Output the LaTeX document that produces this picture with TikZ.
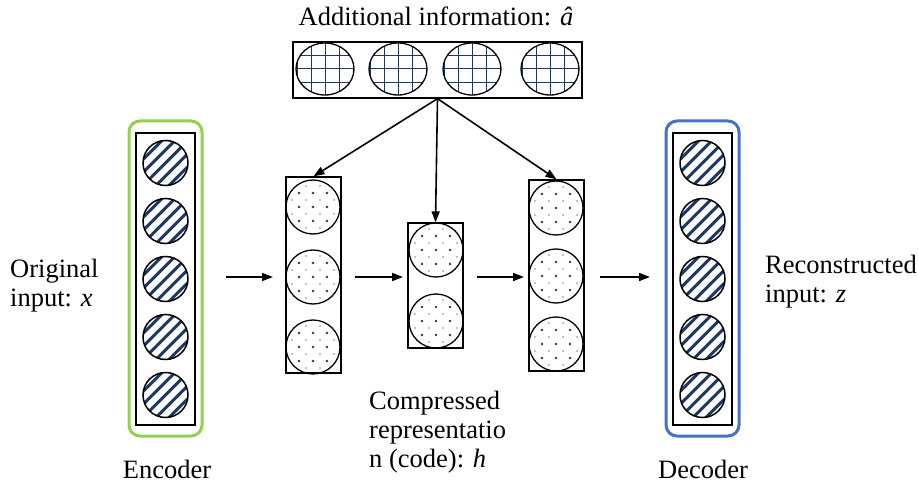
\documentclass[tikz,border=0pt]{standalone}
\usepackage{fontspec}
\setmainfont{Liberation Serif}
\usetikzlibrary{arrows.meta,shapes.geometric,calc}
\definecolor{navy}{HTML}{203864}
\definecolor{encgreen}{HTML}{92D050}
\definecolor{decblue}{HTML}{4472C4}
\tikzset{
  lbl/.style={inner sep=0pt, font=\fontsize{26.5}{29}\selectfont, align=left},
  layerbox/.style={draw, line width=1.3pt, inner sep=0pt},
  outerbox/.style={line width=3pt, rounded corners=11pt, inner sep=0pt},
  stripecirc/.style={circle, draw, line width=1.5pt, minimum size=45pt, inner sep=0pt,
    path picture={\foreach \k in {-6,...,6}
      \draw[navy, line width=3.1pt] ($(path picture bounding box.center)+(\k*13-40,40)$) -- ++(80,-80);}},
  dotcirc/.style={circle, draw, line width=1.3pt, minimum size=54pt, inner sep=0pt,
    path picture={\foreach \i in {-2,...,2} \foreach \j in {-2,...,2} {
      \fill[navy] ($(path picture bounding box.center)+(\i*14,\j*14)$) circle (1.3);
      \fill[black] ($(path picture bounding box.center)+(\i*14+7,\j*14+7)$) circle (0.55);}}},
  gridell/.style={ellipse, draw, line width=1.3pt, minimum width=58pt, minimum height=52pt, inner sep=0pt,
    path picture={\foreach \i in {-3,...,3}
      \draw[navy, line width=1pt] ($(path picture bounding box.center)+(\i*14,-40)$) -- ++(0,80);
      \foreach \j in {-3,...,3}
      \draw[navy, line width=1pt] ($(path picture bounding box.center)+(-40,\j*13.5)$) -- ++(80,0);}},
  arr/.style={line width=1.6pt, -{Triangle[length=11pt,width=8pt]}}
}
\begin{document}
\begin{tikzpicture}[x=1pt,y=-1pt]
\useasboundingbox (0,0) rectangle (918,489);
% title and top box
\node[lbl, anchor=base] (title) at (436,26) {Additional information: \textit{â}};
\node[layerbox, minimum width=289pt, minimum height=56pt] (top) at (437.5,70) {};
\node[gridell] (g1) at (325,69) {};
\node[gridell] (g2) at (398,69) {};
\node[gridell] (g3) at (472,69) {};
\node[gridell] (g4) at (550,69) {};
% encoder
\node[outerbox, draw=encgreen, minimum width=73pt, minimum height=315pt] (enc) at (165.5,278.5) {};
\node[layerbox, minimum width=59pt, minimum height=292pt] (encin) at (165.5,279) {};
\foreach \y [count=\n] in {163,221,279,337,395}
  \node[stripecirc] (e\n) at (165.5,\y) {};
% decoder
\node[outerbox, draw=decblue, minimum width=73pt, minimum height=315pt] (dec) at (702.5,278.5) {};
\node[layerbox, minimum width=59pt, minimum height=292pt] (decin) at (702.5,279) {};
\foreach \y [count=\n] in {163,221,279,337,395}
  \node[stripecirc] (d\n) at (702.5,\y) {};
% hidden layers
\node[layerbox, minimum width=55pt, minimum height=196pt] (L) at (313.5,275) {};
\foreach \y [count=\n] in {207,277,347}
  \node[dotcirc] (l\n) at (313,\y) {};
\node[layerbox, minimum width=55pt, minimum height=125pt] (M) at (435.5,285.5) {};
\foreach \y [count=\n] in {250,321}
  \node[dotcirc] (m\n) at (436,\y) {};
\node[layerbox, minimum width=55pt, minimum height=191pt] (R) at (556.5,275.5) {};
\foreach \y [count=\n] in {208,276,344}
  \node[dotcirc] (r\n) at (556,\y) {};
% arrows from top
\draw[arr] (top.south) -- (L.north);
\draw[arr] (top.south) -- (M.north);
\draw[arr] (top.south) -- (R.north);
% horizontal arrows
\coordinate (a1s) at (226,277); \coordinate (a1e) at (273,277);
\coordinate (a2s) at (355,277); \coordinate (a2e) at (403,277);
\coordinate (a3s) at (477,277); \coordinate (a3e) at (524,277);
\coordinate (a4s) at (600,277); \coordinate (a4e) at (650,277);
\draw[arr] (a1s) -- (a1e);
\draw[arr] (a2s) -- (a2e);
\draw[arr] (a3s) -- (a3e);
\draw[arr] (a4s) -- (a4e);
% labels
\node[lbl, anchor=west] (orig) at (10,286) {Original\\input: \textit{x}};
\node[lbl, anchor=west] (recon) at (765,282) {Reconstructed\\input: \textit{z}};
\node[lbl, anchor=west] (comp) at (369,432) {Compressed\\representatio\\n (code): \textit{h}};
\node[lbl, anchor=base] (encl) at (167,478) {Encoder};
\node[lbl, anchor=base] (decl) at (703,478) {Decoder};
\end{tikzpicture}
\end{document}
